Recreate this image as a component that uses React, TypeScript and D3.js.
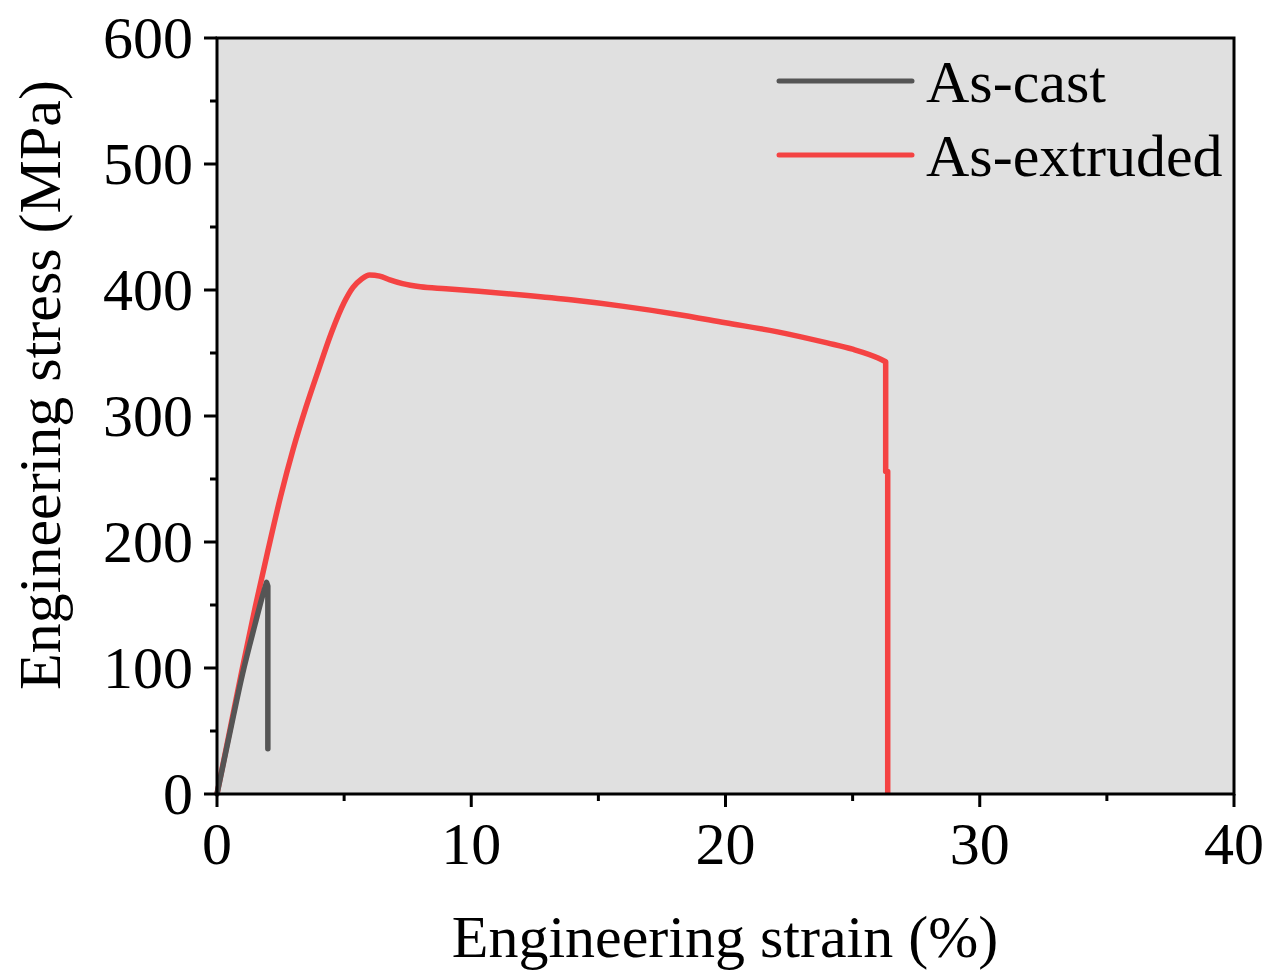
import React from "react";
import * as d3 from "d3";

const xTicks = [0, 10, 20, 30, 40];
const yTicks = [0, 100, 200, 300, 400, 500, 600];
const xMinor = [5, 15, 25, 35];
const yMinor = [50, 150, 250, 350, 450, 550];

const asCastStrain = [0, 0.5, 1.0, 1.5, 1.8, 1.95];
const asCastStress = [0, 48, 95, 135, 158, 168];
const asCastDropStrain = [1.95, 2.0, 2.0];
const asCastDropStress = [168, 165, 36];

const asExtStrain = [0, 0.5, 1.0, 1.5, 2.0, 2.5, 3.0, 3.5, 4.0, 4.5, 5.0, 5.35, 5.7, 6.0, 6.4, 6.8, 7.3, 8.0, 9.0, 10.3, 12, 14, 16, 18, 20, 22, 24, 25, 26, 26.3];
const asExtStress = [0, 50, 100, 148, 193, 236, 274, 307, 337, 366, 390, 402, 409, 412, 411, 408, 405, 402.5, 401, 399, 396, 392, 387, 381, 374, 367, 358, 353, 346, 343];
const asExtDropStrain = [26.3, 26.3, 26.38, 26.38];
const asExtDropStress = [343, 256, 256, 0];

const seriesNames = ["As-cast", "As-extruded"];
const seriesColors = ["#555555", "#f44343"];

export default function App() {
  const W = 1267, H = 970;
  const L = 217, R = 1234, T = 38, B = 794;
  const x = d3.scaleLinear().domain([0, 40]).range([L, R]);
  const y = d3.scaleLinear().domain([0, 600]).range([B, T]);
  const smooth = d3.line<[number, number]>().x(d => x(d[0])).y(d => y(d[1])).curve(d3.curveMonotoneX);
  const straight = d3.line<[number, number]>().x(d => x(d[0])).y(d => y(d[1]));
  const zip = (a: number[], b: number[]) => a.map((s, i) => [s, b[i]] as [number, number]);
  const castPath = (smooth(zip(asCastStrain, asCastStress)) || "") + (straight(zip(asCastDropStrain, asCastDropStress)) || "").replace(/^M/, "L");
  const extPath = (smooth(zip(asExtStrain, asExtStress)) || "") + (straight(zip(asExtDropStrain, asExtDropStress)) || "").replace(/^M/, "L");
  const font = "'Liberation Serif', 'Times New Roman', serif";
  const fs = 60;
  return (
    <svg width={W} height={H} style={{ position: "absolute", left: 0, top: 0, background: "#fff" }} fontFamily={font}>
      <rect x={L} y={T} width={R - L} height={B - T} fill="#e0e0e0" />
      <path d={extPath} fill="none" stroke={seriesColors[1]} strokeWidth={5.5} strokeLinejoin="round" />
      <path d={castPath} fill="none" stroke={seriesColors[0]} strokeWidth={5.5} strokeLinejoin="round" strokeLinecap="round" />
      <rect x={L} y={T} width={R - L} height={B - T} fill="none" stroke="#000" strokeWidth={3} />
      {xTicks.map(t => (
        <g key={"xt" + t}>
          <line x1={x(t)} x2={x(t)} y1={B} y2={B + 13} stroke="#000" strokeWidth={3} />
          <text x={x(t)} y={864} fontSize={fs} textAnchor="middle">{t}</text>
        </g>
      ))}
      {xMinor.map(t => (
        <line key={"xm" + t} x1={x(t)} x2={x(t)} y1={B} y2={B + 7} stroke="#000" strokeWidth={3} />
      ))}
      {yTicks.map(t => (
        <g key={"yt" + t}>
          <line x1={L - 13} x2={L} y1={y(t)} y2={y(t)} stroke="#000" strokeWidth={3} />
          <text x={193} y={y(t) + 20} fontSize={fs} textAnchor="end">{t}</text>
        </g>
      ))}
      {yMinor.map(t => (
        <line key={"ym" + t} x1={L - 7} x2={L} y1={y(t)} y2={y(t)} stroke="#000" strokeWidth={3} />
      ))}
      <text x={725} y={957} fontSize={fs} textAnchor="middle">Engineering strain (%)</text>
      <text transform={`translate(60, 385) rotate(-90)`} fontSize={fs} textAnchor="middle">Engineering stress (MPa)</text>
      {seriesNames.map((n, i) => (
        <g key={n}>
          <line x1={779} x2={912} y1={81 + i * 74} y2={81 + i * 74} stroke={seriesColors[i]} strokeWidth={5} strokeLinecap="round" />
          <text x={926} y={102 + i * 74} fontSize={fs}>{n}</text>
        </g>
      ))}
    </svg>
  );
}
